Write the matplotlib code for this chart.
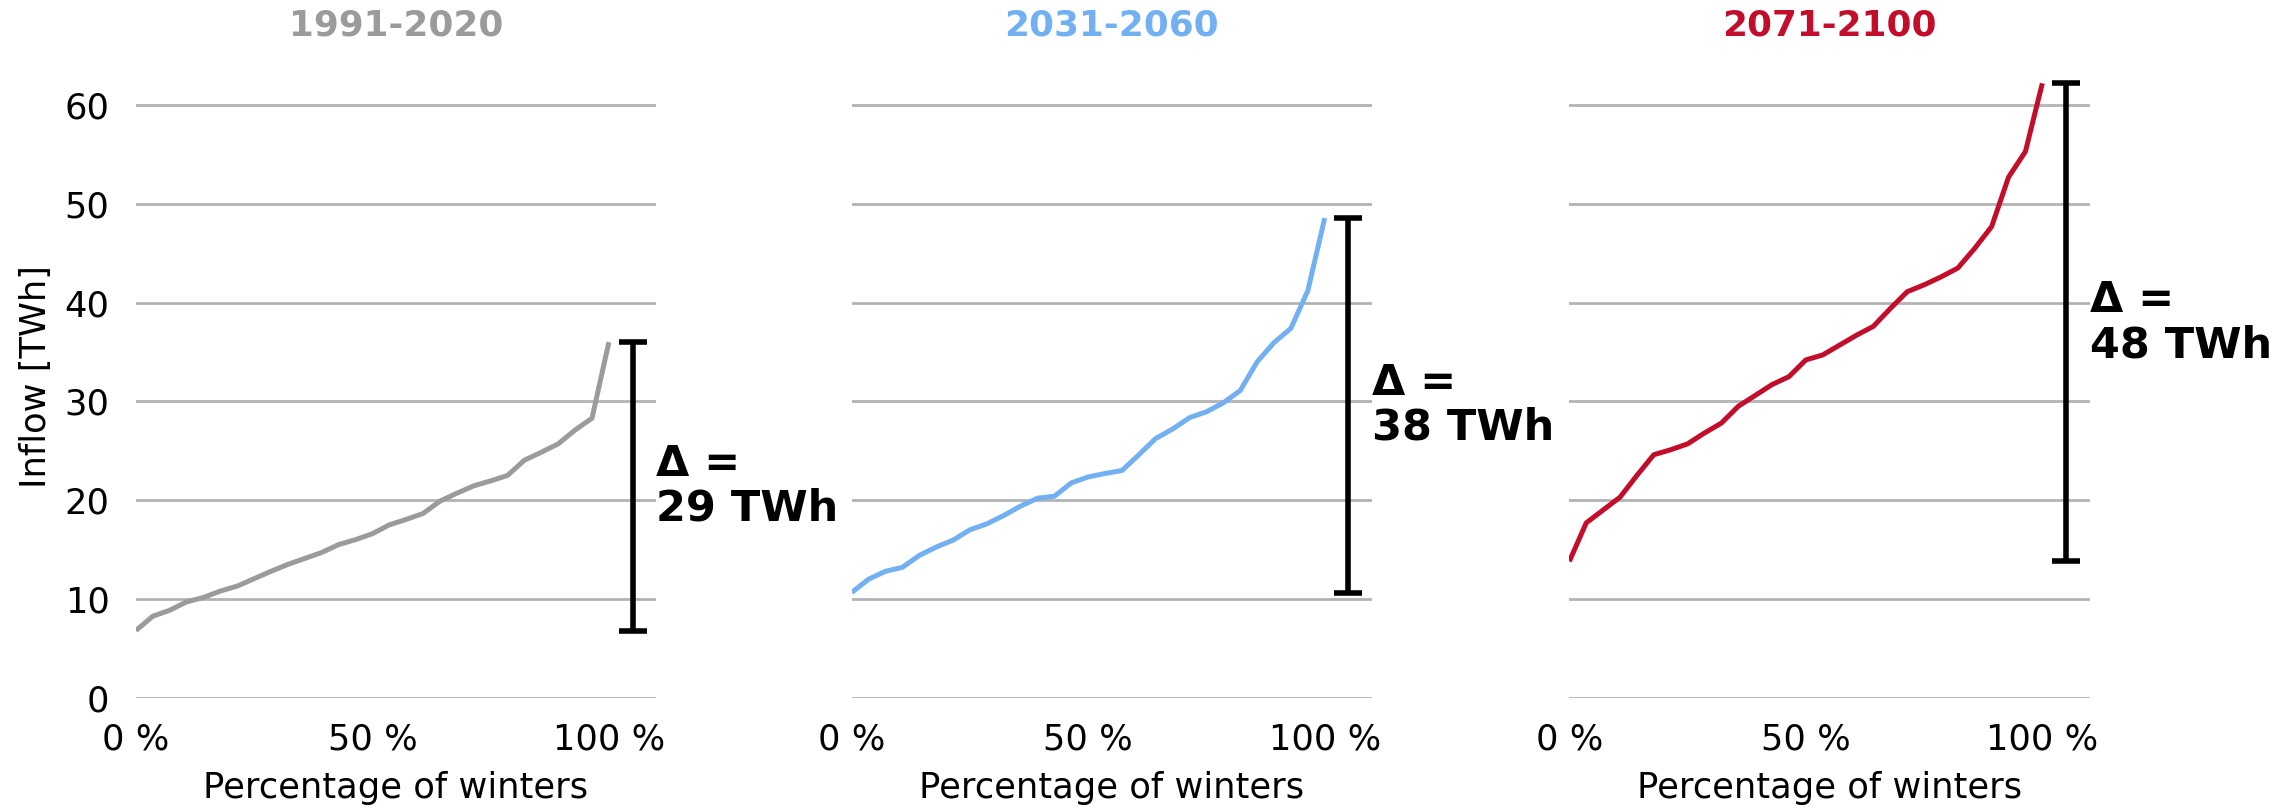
import numpy as np
import matplotlib
matplotlib.use('Agg')
import matplotlib.pyplot as plt
from matplotlib.ticker import FixedLocator

# sorted winter inflow [TWh], one value per winter (29 winters per period)
periods = ['1991-2020', '2031-2060', '2071-2100']
colors = ['#9b9b9b', '#72b0f2', '#c20d2b']

inflow_1991_2020 = [6.8, 8.25, 8.85, 9.7, 10.15, 10.8, 11.3, 12.05, 12.8, 13.5,
                    14.1, 14.7, 15.5, 16.0, 16.6, 17.5, 18.05, 18.65, 19.9, 20.7,
                    21.45, 21.95, 22.5, 24.05, 24.85, 25.7, 27.1, 28.3, 36.0]
inflow_2031_2060 = [10.65, 12.0, 12.8, 13.2, 14.4, 15.25, 15.95, 17.0, 17.6, 18.45,
                    19.4, 20.2, 20.4, 21.75, 22.35, 22.7, 23.0, 24.6, 26.25, 27.2,
                    28.35, 28.95, 29.85, 31.1, 34.0, 35.95, 37.4, 41.2, 48.55]
inflow_2071_2100 = [13.8, 17.7, 19.0, 20.3, 22.5, 24.6, 25.1, 25.7, 26.8, 27.8,
                    29.5, 30.6, 31.7, 32.5, 34.2, 34.7, 35.7, 36.7, 37.6, 39.4,
                    41.1, 41.8, 42.6, 43.5, 45.5, 47.7, 52.7, 55.3, 62.2]
series = [inflow_1991_2020, inflow_2031_2060, inflow_2071_2100]

y_ticks = [0, 10, 20, 30, 40, 50, 60]
x_ticks = [0, 0.5, 1.0]
x_ticklabels = ['0 %', '50 %', '100 %']

plt.rcParams['font.family'] = 'DejaVu Sans'

fig = plt.figure(figsize=(11.42, 4.04), dpi=200)
lefts = [0.0595, 0.3729, 0.6871]

for i, (name, col, vals) in enumerate(zip(periods, colors, series)):
    ax = fig.add_axes([lefts[i], 0.1365, 0.2278, 0.7946])
    vals = np.array(vals)
    x = np.linspace(0, 1, len(vals))
    ax.plot(x, vals, color=col, lw=1.8, solid_capstyle='butt', zorder=3)

    lo, hi = vals.min(), vals.max()
    mid = (lo + hi) / 2
    ax.errorbar([1.05], [mid], yerr=[[mid - lo], [hi - mid]], color='black',
                lw=2.0, capsize=5, capthick=2.0, zorder=4)
    ax.text(1.1, mid, 'Δ =\n%d TWh' % round(hi - lo), ha='left', va='center',
            fontsize=15.5, fontweight='bold', linespacing=1.1)

    ax.set_xlim(0, 1.1)
    ax.set_ylim(0, 65)
    ax.yaxis.set_major_locator(FixedLocator(y_ticks))
    ax.set_xticks(x_ticks)
    ax.set_xticklabels(x_ticklabels)
    ax.grid(axis='y', color='#b3b3b3', lw=1.0, zorder=0)
    ax.set_axisbelow(True)
    for s in ax.spines.values():
        s.set_visible(False)
    ax.tick_params(length=0, labelsize=12.7)
    ax.tick_params(axis='y', pad=9.5)
    ax.tick_params(axis='x', pad=9)
    ax.set_xlabel('Percentage of winters', fontsize=12.7, labelpad=5)
    if i == 0:
        ax.set_ylabel('Inflow [TWh]', fontsize=12.7, labelpad=4)
    else:
        ax.set_yticklabels([])
    ax.set_title(name, color=col, fontsize=12.9, fontweight='bold', pad=7.3)

fig.savefig('out.png', dpi=200)
